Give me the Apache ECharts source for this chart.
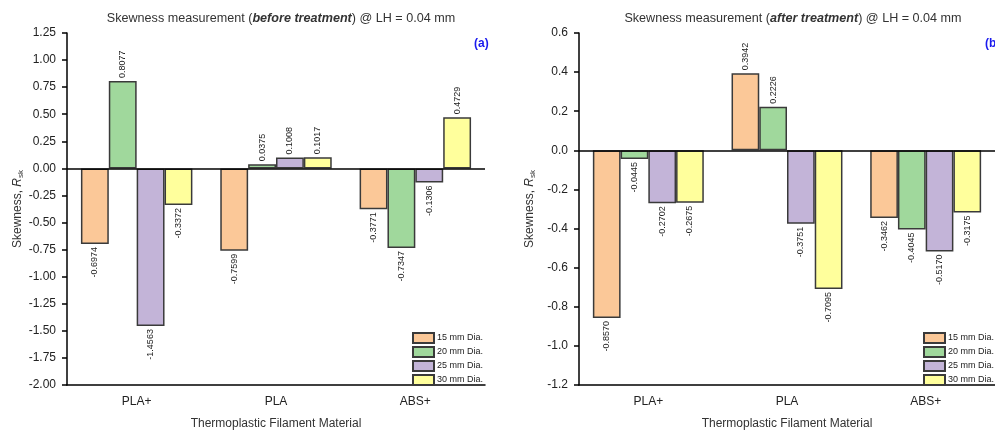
<!DOCTYPE html>
<html>
<head>
<meta charset="utf-8">
<script src="https://cdn.jsdelivr.net/npm/echarts@6/dist/echarts.min.js"></script>
<style>
  html, body { margin: 0; padding: 0; background: #fff; }
  #chart { width: 995px; height: 435px; }
</style>
</head>
<body>
<div id="chart"></div>
<script>
// Materials on the category axis
const categories = ['PLA+', 'PLA', 'ABS+'];
const seriesNames = ['15 mm Dia.', '20 mm Dia.', '25 mm Dia.', '30 mm Dia.'];

// Skewness Rsk before treatment
const before15 = [-0.6974, -0.7599, -0.3771];
const before20 = [0.8077, 0.0375, -0.7347];
const before25 = [-1.4563, 0.1008, -0.1306];
const before30 = [-0.3372, 0.1017, 0.4729];

// Skewness Rsk after treatment
const after15 = [-0.8570, 0.3942, -0.3462];
const after20 = [-0.0445, 0.2226, -0.4045];
const after25 = [-0.2702, -0.3751, -0.5170];
const after30 = [-0.2675, -0.7095, -0.3175];

// Axis ticks
const beforeTicks = { min: -2.0, max: 1.25, interval: 0.25, digits: 2 };
const afterTicks = { min: -1.2, max: 0.6, interval: 0.2, digits: 1 };

const colors = ['#FBC898', '#A0D89C', '#C3B4D8', '#FFFF9C'];
const FONT = 'Liberation Sans, Arial, sans-serif';

function barData(vals) {
  return vals.map(v => ({
    value: v,
    label: {
      position: v >= 0 ? 'top' : 'bottom',
      align: v >= 0 ? 'left' : 'right',
      verticalAlign: 'middle'
    }
  }));
}

function makeSeries(vals, idx, axisIdx) {
  const s = {
    name: seriesNames[idx],
    type: 'bar',
    xAxisIndex: axisIdx,
    yAxisIndex: axisIdx,
    barGap: '0%',
    barCategoryGap: '20%',
    data: barData(vals),
    itemStyle: { color: colors[idx], borderColor: '#3a3a3a', borderWidth: 1.5 },
    label: {
      show: true,
      rotate: 90,
      distance: 3,
      fontSize: 9,
      fontFamily: FONT,
      color: '#222',
      formatter: p => p.value.toFixed(4)
    }
  };
  if (idx === 0) {
    s.markLine = {
      silent: true,
      symbol: 'none',
      label: { show: false },
      lineStyle: { color: '#000', width: 1.5, type: 'solid' },
      data: [{ yAxis: 0 }]
    };
  }
  return s;
}

function yAxisFor(t, gridIdx) {
  return {
    type: 'value',
    gridIndex: gridIdx,
    min: t.min, max: t.max, interval: t.interval,
    name: 'Skewness, {i|R}{sub|sk}',
    nameLocation: 'middle',
    nameGap: 42,
    nameTextStyle: {
      fontSize: 12, fontFamily: FONT, color: '#333',
      rich: {
        i: { fontSize: 12, fontStyle: 'italic', fontFamily: FONT, color: '#333' },
        sub: { fontSize: 8, fontFamily: FONT, color: '#333', verticalAlign: 'bottom', padding: [6, 0, 0, 0] }
      }
    },
    splitLine: { show: false },
    axisLine: { show: true, lineStyle: { color: '#000', width: 1.5 } },
    axisTick: { show: true, inside: false, length: 5, lineStyle: { color: '#000', width: 1.5 } },
    axisLabel: {
      fontSize: 12, fontFamily: FONT, color: '#222', margin: 11,
      formatter: v => v.toFixed(t.digits)
    }
  };
}

function xAxisFor(gridIdx) {
  return {
    type: 'category',
    gridIndex: gridIdx,
    data: categories,
    name: 'Thermoplastic Filament Material',
    nameLocation: 'middle',
    nameGap: 33,
    nameTextStyle: { fontSize: 12, fontFamily: FONT, color: '#333' },
    axisLine: { onZero: false, lineStyle: { color: '#000', width: 1.5 } },
    axisTick: { alignWithLabel: true, length: 5, lineStyle: { color: '#000', width: 1.5 } },
    axisLabel: { fontSize: 12, fontFamily: FONT, color: '#222', margin: 11 }
  };
}

function legendAt(left) {
  return {
    data: seriesNames,
    orient: 'vertical',
    left: left,
    top: 332,
    icon: 'rect',
    itemWidth: 21,
    itemHeight: 10,
    itemGap: 2,
    padding: 0,
    textStyle: { fontSize: 9, fontFamily: FONT, color: '#222', padding: [0, 0, 0, -2] }
  };
}

function titleRich(mid) {
  return 'Skewness measurement ({b|' + mid + '}) @ LH = 0.04 mm';
}

const titleStyle = {
  fontSize: 12.6, fontWeight: 'normal', fontFamily: FONT, color: '#333',
  rich: { b: { fontSize: 12.6, fontWeight: 'bold', fontStyle: 'italic', fontFamily: FONT, color: '#333' } }
};

const chart = echarts.init(document.getElementById('chart'), null, { renderer: 'canvas' });
chart.setOption({
  backgroundColor: '#fff',
  animation: false,
  title: [
    { text: titleRich('before treatment'), left: 276, top: 7, textAlign: 'center', textStyle: titleStyle },
    { text: titleRich('after treatment'), left: 788, top: 7, textAlign: 'center', textStyle: titleStyle },
    { text: '(a)', left: 469, top: 33, textStyle: { fontSize: 12, fontWeight: 'bold', fontFamily: FONT, color: '#1a1aee' } },
    { text: '(b)', left: 980, top: 33, textStyle: { fontSize: 12, fontWeight: 'bold', fontFamily: FONT, color: '#1a1aee' } }
  ],
  legend: [legendAt(412), legendAt(923)],
  grid: [
    { left: 67, top: 33, width: 418, height: 352 },
    { left: 579, top: 33, width: 418, height: 352 }
  ],
  xAxis: [xAxisFor(0), xAxisFor(1)],
  yAxis: [yAxisFor(beforeTicks, 0), yAxisFor(afterTicks, 1)],
  series: [
    makeSeries(before15, 0, 0),
    makeSeries(before20, 1, 0),
    makeSeries(before25, 2, 0),
    makeSeries(before30, 3, 0),
    makeSeries(after15, 0, 1),
    makeSeries(after20, 1, 1),
    makeSeries(after25, 2, 1),
    makeSeries(after30, 3, 1)
  ]
});
</script>
</body>
</html>
